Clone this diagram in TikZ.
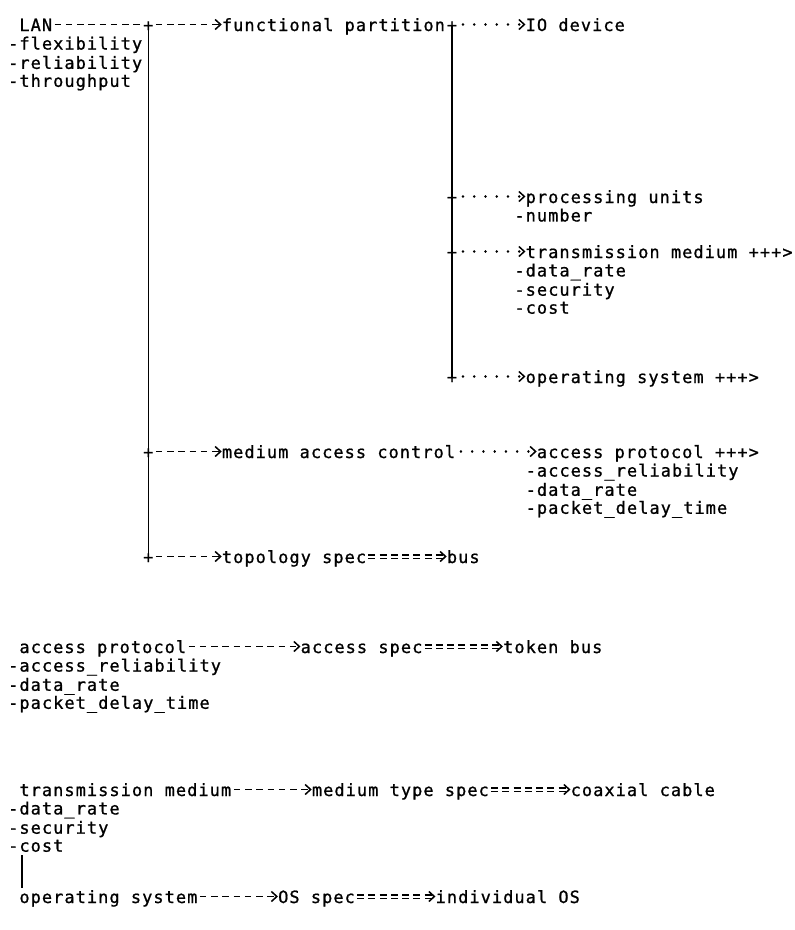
\documentclass[tikz,border=0pt]{standalone}
\usepackage{fontspec}
\newfontfamily\lpfont[LetterSpace=6.4,FakeBold=1]{DejaVu Sans Mono}
\usetikzlibrary{arrows.meta}

\tikzset{
  lbl/.style={anchor=base west, inner sep=0pt, text height=13pt, text depth=0pt},
  attr/.style={anchor=north west, inner sep=0pt, align=left},
  vbar/.style={line width=1.3pt},
  dashline/.style={line width=1.5pt, dash pattern=on 6.5pt off 4.75pt, dash phase=8.85pt},
  dotline/.style={line width=2.5pt, line cap=round, dash pattern=on 0.1pt off 11.15pt, dash phase=5.65pt},
  eqline/.style={line width=1.2pt, double, double distance=2pt, dash pattern=on 7pt off 4.25pt, dash phase=9.25pt}
}

\begin{document}
\begin{tikzpicture}[x=11.25pt, y=-1pt,
    every node/.style={font=\lpfont\fontsize{16.9}{18}\selectfont},
    >={Straight Barb[length=5.5pt,width=10pt,line width=1.5pt]}]
    \useasboundingbox (-0.711,0) rectangle (69.867,930);
    % LAN tree
    \node[lbl] (lan) at (1,31) {LAN};
    \node[attr] (lanattr) at ([xshift=-11.25pt,yshift=-5.4pt]lan.base west) {\strut-flexibility\\-reliability\\-throughput};
    \node[lbl] (j0) at (12,31) {+};
    \node[lbl] (fp) at (19,31) {functional partition};
    \node[lbl] (j1) at (39,31) {+};
    \node[lbl] (io) at (46,31) {IO device};
    \node[lbl] (j2) at (39,203) {+};
    \node[lbl] (pu) at (46,203) {processing units};
    \node[attr] (puattr) at ([xshift=-11.25pt,yshift=-5.4pt]pu.base west) {\strut-number};
    \node[lbl] (j3) at (39,258) {+};
    \node[lbl] (tm) at (46,258) {transmission medium +++>};
    \node[attr] (tmattr) at ([xshift=-11.25pt,yshift=-5.4pt]tm.base west) {\strut-data\_rate\\-security\\-cost};
    \node[lbl] (j4) at (39,383) {+};
    \node[lbl] (os) at (46,383) {operating system +++>};
    \node[lbl] (j5) at (12,458) {+};
    \node[lbl] (mac) at (19,458) {medium access control};
    \node[lbl] (ap) at (47,458) {access protocol +++>};
    \node[attr] (apattr) at ([xshift=-11.25pt,yshift=-5.4pt]ap.base west) {\strut-access\_reliability\\-data\_rate\\-packet\_delay\_time};
    \node[lbl] (j6) at (12,563) {+};
    \node[lbl] (topo) at (19,563) {topology spec};
    \node[lbl] (bus) at (39,563) {bus};

    \draw[vbar] (j0.center) -- (j5.center) -- (j6.center);
    \draw[vbar] (j1.center) -- (j2.center) -- (j3.center) -- (j4.center);
    \draw[dashline] (lan.east) -- (j0.west);
    \draw[dashline,->] (j0.east) -- (fp.west);
    \draw[dotline,->] (j1.east) -- (io.west);
    \draw[dotline,->] (j2.east) -- (pu.west);
    \draw[dotline,->] (j3.east) -- (tm.west);
    \draw[dotline,->] (j4.east) -- (os.west);
    \draw[dashline,->] (j5.east) -- (mac.west);
    \draw[dotline,->] (mac.east) -- (ap.west);
    \draw[dashline,->] (j6.east) -- (topo.west);
    \draw[eqline,->] (topo.east) -- (bus.west);

    % access protocol
    \node[lbl] (ap2) at (1,653) {access protocol};
    \node[attr] (ap2attr) at ([xshift=-11.25pt,yshift=-5.4pt]ap2.base west) {\strut-access\_reliability\\-data\_rate\\-packet\_delay\_time};
    \node[lbl] (as) at (26,653) {access spec};
    \node[lbl] (tb) at (44,653) {token bus};
    \draw[dashline,->] (ap2.east) -- (as.west);
    \draw[eqline,->] (as.east) -- (tb.west);

    % transmission medium
    \node[lbl] (tm2) at (1,796) {transmission medium};
    \node[attr] (tm2attr) at ([xshift=-11.25pt,yshift=-5.4pt]tm2.base west) {\strut-data\_rate\\-security\\-cost};
    \node[lbl] (mts) at (27,796) {medium type spec};
    \node[lbl] (cc) at (50,796) {coaxial cable};
    \draw[dashline,->] (tm2.east) -- (mts.west);
    \draw[eqline,->] (mts.east) -- (cc.west);

    % operating system
    \node[lbl] (os2) at (1,903) {operating system};
    \node[lbl] (oss) at (24,903) {OS spec};
    \node[lbl] (ios) at (38,903) {individual OS};
    \draw[vbar,shorten <=3pt,shorten >=2pt] ([xshift=14pt]tm2attr.south west) -- ([xshift=14pt]tm2attr.south west |- os2.north);
    \draw[dashline,->] (os2.east) -- (oss.west);
    \draw[eqline,->] (oss.east) -- (ios.west);
\end{tikzpicture}
\end{document}
